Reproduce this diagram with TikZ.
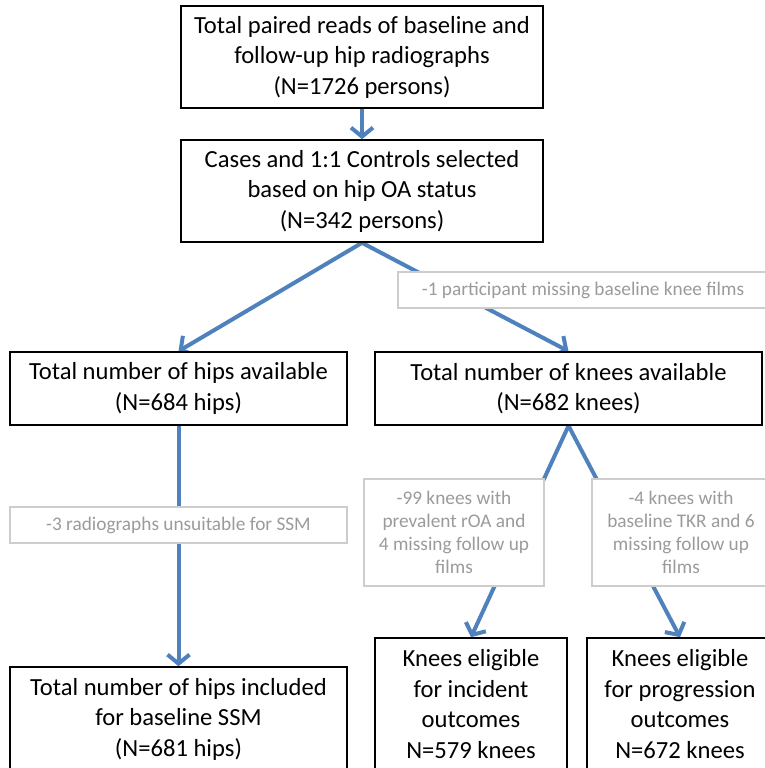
\documentclass[tikz,border=0pt]{standalone}
\usepackage{fontspec}
\setmainfont{Carlito}
\usetikzlibrary{arrows.meta,backgrounds}
\definecolor{flowblue}{RGB}{79,129,189}
\definecolor{notegray}{RGB}{155,155,155}
\definecolor{noteline}{RGB}{205,205,205}
\begin{document}
\begin{tikzpicture}[x=1pt,y=-1pt,
  box/.style={draw=black,line width=1.6pt,fill=white,align=center,inner sep=0pt,
    font=\fontsize{24.6}{30.5}\selectfont},
  note/.style={draw=noteline,line width=1.2pt,fill=white,text=notegray,align=center,
    inner sep=0pt,font=\fontsize{19.3}{23}\selectfont},
  flow/.style={flowblue,line width=4pt,-{Straight Barb[length=9pt,width=22pt]}}]
\clip (0,0) rectangle (765,768);
% main boxes
\node[box,minimum width=362pt,minimum height=102pt] (reads) at (362,57)
  {Total paired reads of baseline and\\follow-up hip radiographs\\(N=1726 persons)};
\node[box,minimum width=362pt,minimum height=102pt] (cases) at (362,191)
  {Cases and 1:1 Controls selected\\based on hip OA status\\(N=342 persons)};
\node[box,minimum width=337pt,minimum height=73pt] (hips) at (178.5,388.5)
  {Total number of hips available\\(N=684 hips)};
\node[box,minimum width=387pt,minimum height=73pt] (knees) at (568.5,388.5)
  {Total number of knees available\\(N=682 knees)};
\node[box,minimum width=337pt,minimum height=104pt] (hipsin) at (178.5,719)
  {Total number of hips included\\for baseline SSM\\(N=681 hips)};
\node[box,minimum width=192pt,minimum height=132pt] (incident) at (471,704)
  {Knees eligible\\for incident\\outcomes\\N=579 knees};
\node[box,minimum width=186pt,minimum height=132pt] (progress) at (680,704)
  {Knees eligible\\for progression\\outcomes\\N=672 knees};
% exclusion notes
\node[note,minimum width=370pt,minimum height=36pt] (dropknee) at (583,290)
  {-1 participant missing baseline knee films};
\node[note,minimum width=337pt,minimum height=36pt] (drophip) at (178.5,525)
  {-3 radiographs unsuitable for SSM};
\node[note,minimum width=180pt,minimum height=107pt] (dropinc) at (454,532.5)
  {-99 knees with\\prevalent rOA and\\4 missing follow up\\films};
\node[note,minimum width=178pt,minimum height=107pt] (dropprog) at (681,532.5)
  {-4 knees with\\baseline TKR and 6\\missing follow up\\films};
% connectors
\begin{pgfonlayer}{background}
\draw[flow] (reads.south) -- (cases.north);
\draw[flow] (cases.south) -- (hips.north);
\draw[flow] (cases.south) -- (knees.north);
\draw[flow] (hips.south) -- (hipsin.north);
\draw[flow] (knees.south) -- (incident.north);
\draw[flow] (knees.south) -- (progress.north);
\end{pgfonlayer}
\end{tikzpicture}
\end{document}
